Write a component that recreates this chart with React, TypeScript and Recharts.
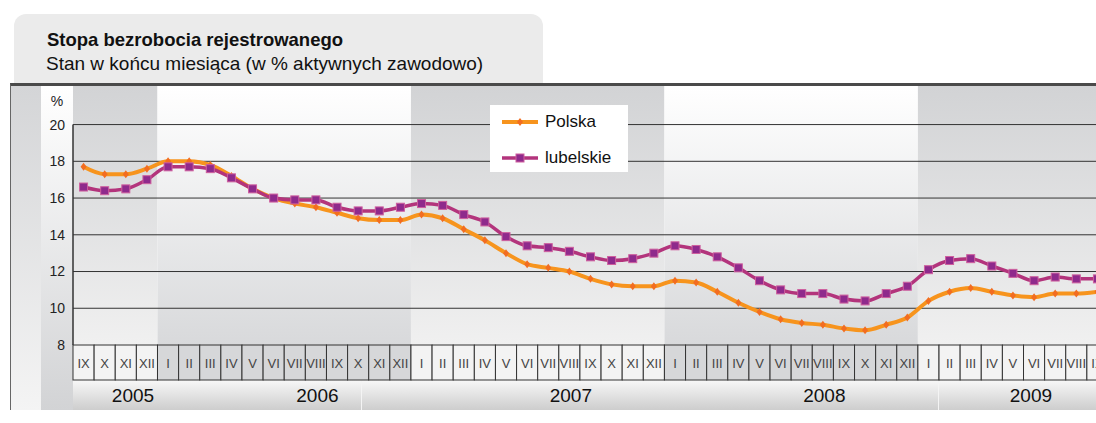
import React from 'react'
import { LineChart, Line, XAxis, YAxis, ReferenceArea, ReferenceLine, Legend } from 'recharts'

const ROMAN = ['I', 'II', 'III', 'IV', 'V', 'VI', 'VII', 'VIII', 'IX', 'X', 'XI', 'XII']
const years = ['2005', '2006', '2007', '2008', '2009']
// first / last month shown for each year
const yearMonths = [[9, 12], [1, 12], [1, 12], [1, 12], [1, 9]]

// stopa bezrobocia, % (koniec miesiąca)
const polska = [
  17.7, 17.3, 17.3, 17.6,
  18.0, 18.0, 17.8, 17.2, 16.5, 16.0, 15.7, 15.5, 15.2, 14.9, 14.8, 14.8,
  15.1, 14.9, 14.3, 13.7, 13.0, 12.4, 12.2, 12.0, 11.6, 11.3, 11.2, 11.2,
  11.5, 11.4, 10.9, 10.3, 9.8, 9.4, 9.2, 9.1, 8.9, 8.8, 9.1, 9.5,
  10.4, 10.9, 11.1, 10.9, 10.7, 10.6, 10.8, 10.8, 10.9,
]
const lubelskie = [
  16.6, 16.4, 16.5, 17.0,
  17.7, 17.7, 17.6, 17.1, 16.5, 16.0, 15.9, 15.9, 15.5, 15.3, 15.3, 15.5,
  15.7, 15.6, 15.1, 14.7, 13.9, 13.4, 13.3, 13.1, 12.8, 12.6, 12.7, 13.0,
  13.4, 13.2, 12.8, 12.2, 11.5, 11.0, 10.8, 10.8, 10.5, 10.4, 10.8, 11.2,
  12.1, 12.6, 12.7, 12.3, 11.9, 11.5, 11.7, 11.6, 11.6,
]
const yTicks = [8, 10, 12, 14, 16, 18, 20]

const months = years.flatMap((y, yi) =>
  ROMAN.slice(yearMonths[yi][0] - 1, yearMonths[yi][1]).map((m) => ({ year: y, month: m }))
)
const data = months.map((m, i) => ({ i, ...m, polska: polska[i], lubelskie: lubelskie[i] }))
const yearSpans = years.map((y) => {
  const idx = data.filter((d) => d.year === y).map((d) => d.i)
  return { year: y, from: Math.min(...idx), to: Math.max(...idx) }
})

// layout
const STEP = 21.125
const FONT = "'Liberation Sans', Arial, sans-serif"
const NARROW = "'Liberation Sans Narrow', 'Arial Narrow', 'Liberation Sans', sans-serif"
const yearLabelShift = [2.84, 7.57, 7.57, 7.57, 5.35] // label centre, months from year start

const MonthTick = (props: any) => {
  const { x, y, payload } = props
  const d = data[payload.value]
  if (!d) return <g />
  const yi = years.indexOf(d.year)
  const first = yearSpans[yi].from === d.i
  const left = x - STEP / 2
  return (
    <g>
      <rect
        x={left}
        y={y}
        width={STEP}
        height={35}
        fill={yi % 2 === 0 ? '#f3f3f3' : '#d6d7d9'}
        stroke="#333"
        strokeWidth={1}
      />
      <text x={x} y={y + 23} textAnchor="middle" fontFamily={NARROW} fontSize={13} fill="#444">
        {d.month}
      </text>
      {first && (
        <text
          x={left + yearLabelShift[yi] * STEP}
          y={y + 57}
          textAnchor="middle"
          fontFamily={FONT}
          fontSize={19}
          fill="#111"
        >
          {d.year}
        </text>
      )}
    </g>
  )
}

const PolskaDot = (props: any) => {
  const { cx, cy, index } = props
  if (cx == null || cy == null) return <g key={index} />
  return (
    <path
      key={index}
      d={`M${cx},${cy - 4} L${cx + 3},${cy} L${cx},${cy + 4} L${cx - 3},${cy} Z`}
      fill="#f26d21"
    />
  )
}

const LubDot = (props: any) => {
  const { cx, cy, index } = props
  if (cx == null || cy == null) return <g key={index} />
  return <rect key={index} x={cx - 4} y={cy - 4} width={8} height={8} fill="#8f2a8c" stroke="#cf5f9e" strokeWidth={1} />
}

const LegendBox = ({ payload }: any) => (
  <div style={{ background: '#fff', width: 138, height: 67, position: 'relative', fontFamily: FONT, fontSize: 17 }}>
    {(payload || []).map((p: any, k: number) => (
      <div
        key={p.value}
        style={{ position: 'absolute', left: 12, top: 6 + k * 36, height: 22, display: 'flex', alignItems: 'center' }}
      >
        <svg width={36} height={12}>
          <line x1={0} y1={6} x2={36} y2={6} stroke={p.color} strokeWidth={p.dataKey === 'polska' ? 4 : 3.5} />
          {p.dataKey === 'polska' ? (
            <path d="M18,2 L21,6 L18,10 L15,6 Z" fill="#f26d21" />
          ) : (
            <rect x={14} y={2} width={8} height={8} fill="#8f2a8c" stroke="#cf5f9e" />
          )}
        </svg>
        <span style={{ marginLeft: 7, color: '#111' }}>{p.value}</span>
      </div>
    ))}
  </div>
)

export default function App() {
  return (
    <div
      style={{
        position: 'absolute',
        left: 0,
        top: 0,
        width: 1096,
        height: 423,
        overflow: 'hidden',
        background: '#fff',
        fontFamily: FONT,
      }}
    >
      {/* header */}
      <div
        style={{
          position: 'absolute',
          left: 14,
          top: 14,
          width: 529,
          height: 80,
          borderRadius: 12,
          background: '#ebebeb',
        }}
      />
      <div style={{ position: 'absolute', left: 47, top: 29, fontSize: 18.5, fontWeight: 'bold', color: '#111' }}>
        Stopa bezrobocia rejestrowanego
      </div>
      <div style={{ position: 'absolute', left: 46, top: 53, fontSize: 19, color: '#111' }}>
        Stan w końcu miesiąca (w % aktywnych zawodowo)
      </div>

      {/* frame + left columns + year row */}
      <div
        style={{
          position: 'absolute',
          left: 10,
          top: 83,
          width: 1100,
          height: 327,
          borderTop: '3px solid #4a4a4a',
          borderLeft: '1px solid #666',
          background: '#fff',
          boxSizing: 'border-box',
        }}
      />
      <div
        style={{
          position: 'absolute',
          left: 11,
          top: 86,
          width: 30,
          height: 324,
          background: 'linear-gradient(#d4d5d7, #f4f4f4)',
        }}
      />
      <div
        style={{
          position: 'absolute',
          left: 41,
          top: 86,
          width: 32,
          height: 324,
          background: 'linear-gradient(#ffffff, #d2d3d5)',
        }}
      />
      <div
        style={{
          position: 'absolute',
          left: 73,
          top: 380,
          width: 1040,
          height: 30,
          background: 'linear-gradient(#f8f8f8, #cdcdcd)',
        }}
      />
      <div style={{ position: 'absolute', left: 361, top: 380, width: 1, height: 30, background: '#f4f4f4' }} />
      <div style={{ position: 'absolute', left: 938, top: 380, width: 1, height: 30, background: '#f4f4f4' }} />

      <div style={{ position: 'absolute', left: 0, top: 0 }}>
        <LineChart width={1110} height={423} data={data} margin={{ top: 86, right: 2, bottom: 13, left: 41 }}>
          <defs>
            <linearGradient id="bandGray" x1="0" y1="0" x2="0" y2="1">
              <stop offset="0%" stopColor="#d2d3d5" />
              <stop offset="100%" stopColor="#f0f0f0" />
            </linearGradient>
            <linearGradient id="bandWhite" x1="0" y1="0" x2="0" y2="1">
              <stop offset="0%" stopColor="#ffffff" />
              <stop offset="100%" stopColor="#d8d9db" />
            </linearGradient>
          </defs>
          {yearSpans.map((s, k) => (
            <ReferenceArea
              key={s.year}
              x1={s.from - 0.5}
              x2={s.to + 0.5}
              y1={8}
              y2={22.1}
              fill={k % 2 === 0 ? 'url(#bandGray)' : 'url(#bandWhite)'}
              fillOpacity={1}
              stroke="none"
              ifOverflow="extendDomain"
            />
          ))}
          {yTicks.slice(1).map((t) => (
            <ReferenceLine key={t} y={t} stroke="#333" strokeWidth={1} />
          ))}
          <XAxis
            dataKey="i"
            type="number"
            domain={[-0.5, data.length - 0.5]}
            ticks={data.map((d) => d.i)}
            interval={0}
            height={65}
            axisLine={false}
            tickLine={false}
            tickSize={0}
            tickMargin={0}
            tick={<MonthTick />}
          />
          <YAxis
            type="number"
            domain={[8, 22.1]}
            ticks={yTicks}
            interval={0}
            width={32}
            axisLine={false}
            tickLine={false}
            tick={{ fill: '#222', fontSize: 14, fontFamily: FONT }}
            label={{ value: '%', position: 'insideTop', offset: 10, fill: '#222', fontSize: 14, fontFamily: FONT }}
          />
          <ReferenceLine
            segment={[
              { x: -0.5, y: 8 },
              { x: -0.5, y: 20 },
            ]}
            stroke="#333"
            strokeWidth={1.5}
          />
          <Line
            type="monotone"
            dataKey="polska"
            name="Polska"
            stroke="#f7941d"
            strokeWidth={4}
            dot={PolskaDot}
            activeDot={false}
            isAnimationActive={false}
          />
          <Line
            type="monotone"
            dataKey="lubelskie"
            name="lubelskie"
            stroke="#b3347c"
            strokeWidth={3.5}
            dot={LubDot}
            activeDot={false}
            isAnimationActive={false}
          />
          <Legend
            layout="vertical"
            align="center"
            verticalAlign="middle"
            content={<LegendBox />}
            wrapperStyle={{ left: 490, top: 105, width: 138, height: 67 }}
          />
        </LineChart>
      </div>
    </div>
  )
}
